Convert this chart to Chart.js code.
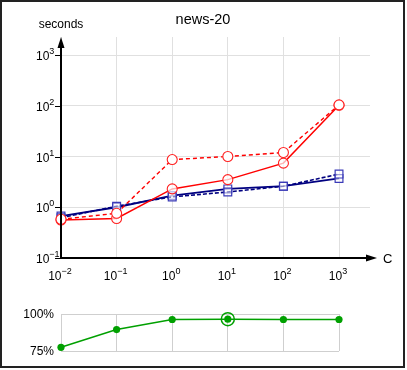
<!DOCTYPE html>
<html>
<head>
<meta charset="utf-8">
<script src="https://cdn.jsdelivr.net/npm/chart.js@4/dist/chart.umd.min.js"></script>
<style>
  html, body { margin: 0; padding: 0; background: #ffffff; }
  #wrap { position: relative; width: 407px; height: 370px; }
  canvas { position: absolute; left: 0; top: 0; }
</style>
</head>
<body>
<div id="wrap">
  <canvas id="main" width="407" height="370"></canvas>
  <canvas id="acc" width="407" height="370"></canvas>
</div>
<script>
// ---- data ----
const cValues = [0.01, 0.1, 1, 10, 100, 1000];
const redSolid = [0.56, 0.60, 2.3, 3.5, 7.4, 102];
const redDashed = [0.58, 0.76, 8.7, 10, 12, 104];
const blueSolid = [0.67, 1.0, 1.7, 2.3, 2.6, 3.7];
const blueDashed = [0.62, 1.05, 1.6, 2.0, 2.6, 4.5];
const accuracy = [77.5, 89.5, 96.3, 96.5, 96.3, 96.3];
const bestIndex = 3;
const xTickExps = [-2, -1, 0, 1, 2, 3];
const yTickExps = [-1, 0, 1, 2, 3];
const accTicks = [75, 100];
const titleText = 'news-20';
const yTitle = 'seconds';
const xTitle = 'C';

const FONT = '"Liberation Sans", Arial, Helvetica, sans-serif';

function pts(xs, ys) { return xs.map((x, i) => ({ x: x, y: ys[i] })); }
function expText(e) { return String(e).replace('-', '\u2212'); }

function drawPow(ctx, x, y, e, align) {
  const b = '10', s = expText(e);
  ctx.font = '12px ' + FONT;
  const wb = ctx.measureText(b).width;
  ctx.font = '9px ' + FONT;
  const ws = ctx.measureText(s).width;
  let left = x;
  if (align === 'center') left = x - (wb + ws) / 2;
  ctx.textAlign = 'left';
  ctx.textBaseline = 'middle';
  ctx.font = '12px ' + FONT;
  ctx.fillText(b, left, y);
  ctx.font = '9px ' + FONT;
  ctx.fillText(s, left + wb, y - 5);
}

const mainDeco = {
  id: 'mainDeco',
  afterDraw(chart) {
    const ctx = chart.ctx;
    const xs = chart.scales.x, ys = chart.scales.y;
    const a = chart.chartArea;
    const x0 = xs.getPixelForValue(cValues[0]);
    const yb = ys.getPixelForValue(Math.pow(10, yTickExps[0]));
    ctx.save();
    ctx.fillStyle = '#000';
    ctx.strokeStyle = '#000';
    // axes
    ctx.lineWidth = 2;
    ctx.beginPath();
    ctx.moveTo(x0, yb);
    ctx.lineTo(x0, a.top + 8);
    ctx.moveTo(x0, yb);
    ctx.lineTo(a.right + 0, yb);
    ctx.stroke();
    // arrows
    ctx.beginPath();
    ctx.moveTo(x0, a.top);
    ctx.lineTo(x0 - 3.5, a.top + 11);
    ctx.lineTo(x0 + 3.5, a.top + 11);
    ctx.closePath();
    ctx.fill();
    ctx.beginPath();
    ctx.moveTo(a.right + 7, yb);
    ctx.lineTo(a.right - 4, yb - 3.5);
    ctx.lineTo(a.right - 4, yb + 3.5);
    ctx.closePath();
    ctx.fill();
    // y tick marks + labels
    ctx.lineWidth = 1;
    yTickExps.forEach(e => {
      const py = Math.round(ys.getPixelForValue(Math.pow(10, e))) + 0.5;
      ctx.beginPath();
      ctx.moveTo(x0 - 6, py);
      ctx.lineTo(x0, py);
      ctx.stroke();
      drawPow(ctx, 36, py + 1, e, 'left');
    });
    // x labels
    xTickExps.forEach(e => {
      const px = xs.getPixelForValue(Math.pow(10, e));
      drawPow(ctx, px - 1, yb + 19, e, 'center');
    });
    // titles
    ctx.textBaseline = 'middle';
    ctx.textAlign = 'center';
    ctx.font = '14.5px ' + FONT;
    ctx.fillText(titleText, 203, 20);
    ctx.font = '12px ' + FONT;
    ctx.fillText(yTitle, x0, 25);
    ctx.textAlign = 'left';
    ctx.font = '13px ' + FONT;
    ctx.fillText(xTitle, a.right + 13, yb + 1);
    // frame
    ctx.strokeStyle = '#222';
    ctx.lineWidth = 2;
    ctx.strokeRect(1, 1, 403, 366);
    ctx.restore();
  }
};

const logTicks = exps => exps.map(e => ({ value: Math.pow(10, e) }));

new Chart(document.getElementById('main'), {
  type: 'line',
  data: {
    datasets: [
      { data: pts(cValues, redDashed), borderColor: '#ff0000', borderWidth: 1.4, borderDash: [4, 3],
        pointStyle: 'circle', pointRadius: 5, pointBorderColor: '#ff2020', pointBackgroundColor: '#ffffff', pointBorderWidth: 1.1 },
      { data: pts(cValues, redSolid), borderColor: '#ff0000', borderWidth: 1.5,
        pointStyle: 'circle', pointRadius: 5, pointBorderColor: '#ff2020', pointBackgroundColor: 'rgba(255,255,255,0.7)', pointBorderWidth: 1.1 },
      { data: pts(cValues, blueDashed), borderColor: '#000080', borderWidth: 1.6, borderDash: [4, 2],
        pointStyle: 'rect', pointRadius: 5.5, pointBorderColor: '#3b3bb8', pointBackgroundColor: 'rgba(255,255,255,0.5)', pointBorderWidth: 1.2 },
      { data: pts(cValues, blueSolid), borderColor: '#000080', borderWidth: 1.8,
        pointStyle: 'rect', pointRadius: 5.5, pointBorderColor: '#3b3bb8', pointBackgroundColor: 'rgba(255,255,255,0.5)', pointBorderWidth: 1.2 }
    ]
  },
  options: {
    responsive: false,
    animation: false,
    events: [],
    clip: false,
    layout: { padding: { left: 61, top: 37, right: 37, bottom: 112 } },
    plugins: { legend: { display: false }, tooltip: { enabled: false }, title: { display: false } },
    scales: {
      x: {
        type: 'logarithmic', min: 0.01, max: 3606,
        afterBuildTicks: s => { s.ticks = logTicks(xTickExps); },
        afterFit: s => { s.height = 0; },
        ticks: { display: false },
        grid: { color: '#e0e0e0', lineWidth: 1, drawTicks: false },
        border: { display: false }
      },
      y: {
        type: 'logarithmic', min: 0.1, max: 2264,
        afterBuildTicks: s => { s.ticks = logTicks(yTickExps); },
        afterFit: s => { s.width = 0; },
        ticks: { display: false },
        grid: { color: '#e0e0e0', lineWidth: 1, drawTicks: false },
        border: { display: false }
      }
    }
  },
  plugins: [mainDeco]
});

const accDeco = {
  id: 'accDeco',
  afterDatasetsDraw(chart) {
    const ctx = chart.ctx;
    const xs = chart.scales.x, ys = chart.scales.y;
    ctx.save();
    // best marker ring
    const px = xs.getPixelForValue(cValues[bestIndex]);
    const py = ys.getPixelForValue(accuracy[bestIndex]);
    ctx.strokeStyle = '#00a000';
    ctx.lineWidth = 1.5;
    ctx.beginPath();
    ctx.arc(px, py, 6.5, 0, Math.PI * 2);
    ctx.stroke();
    // labels
    ctx.fillStyle = '#000';
    ctx.font = '12px ' + FONT;
    ctx.textAlign = 'right';
    ctx.textBaseline = 'middle';
    accTicks.forEach(v => {
      ctx.fillText(v + '%', 54, ys.getPixelForValue(v) + 1);
    });
    ctx.restore();
  }
};

new Chart(document.getElementById('acc'), {
  type: 'line',
  data: {
    datasets: [
      { data: pts(cValues, accuracy), borderColor: '#00a000', borderWidth: 1.5,
        pointStyle: 'circle', pointRadius: 3.6, pointBorderWidth: 0,
        pointBackgroundColor: '#00a000', pointBorderColor: '#00a000' }
    ]
  },
  options: {
    responsive: false,
    animation: false,
    events: [],
    clip: false,
    layout: { padding: { left: 61, top: 314, right: 68, bottom: 19 } },
    plugins: { legend: { display: false }, tooltip: { enabled: false } },
    scales: {
      x: {
        type: 'logarithmic', min: 0.01, max: 1000,
        afterBuildTicks: s => { s.ticks = logTicks(xTickExps); },
        afterFit: s => { s.height = 0; },
        ticks: { display: false },
        grid: { color: '#cfcfcf', lineWidth: 1, drawTicks: false },
        border: { display: false }
      },
      y: {
        type: 'linear', min: 75, max: 100,
        afterBuildTicks: s => { s.ticks = accTicks.map(v => ({ value: v })); },
        afterFit: s => { s.width = 0; },
        ticks: { display: false },
        grid: { color: '#cfcfcf', lineWidth: 1, drawTicks: false },
        border: { display: false }
      }
    }
  },
  plugins: [accDeco]
});
</script>
</body>
</html>
